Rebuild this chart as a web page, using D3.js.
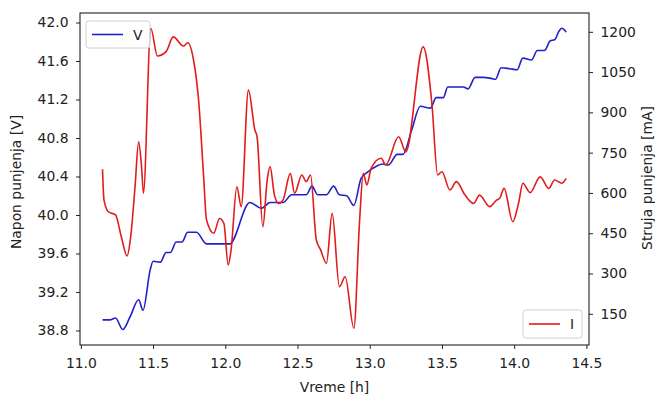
<!DOCTYPE html>
<html><head><meta charset="utf-8">
<script src="https://cdn.jsdelivr.net/npm/d3@7"></script>
<style>body{margin:0;background:#fff}svg{display:block;font-family:"DejaVu Sans",sans-serif}</style>
</head><body>
<script>
const timeV = [11.15,11.20,11.24,11.29,11.34,11.40,11.43,11.48,11.50,11.55,11.59,11.62,11.66,11.70,11.74,11.80,11.87,12.03,12.17,12.25,12.31,12.40,12.46,12.56,12.60,12.64,12.70,12.75,12.79,12.84,12.89,12.94,12.98,13.05,13.09,13.13,13.19,13.23,13.29,13.35,13.42,13.46,13.51,13.54,13.59,13.65,13.68,13.73,13.78,13.84,13.87,13.91,13.97,14.02,14.06,14.12,14.16,14.21,14.25,14.28,14.31,14.33,14.36];
const voltage = [38.91,38.91,38.93,38.81,38.94,39.12,39.01,39.43,39.52,39.51,39.61,39.61,39.72,39.72,39.82,39.82,39.70,39.70,40.13,40.07,40.13,40.13,40.21,40.21,40.30,40.21,40.21,40.30,40.21,40.20,40.10,40.38,40.44,40.51,40.53,40.52,40.63,40.63,40.88,41.13,41.11,41.22,41.22,41.33,41.33,41.33,41.31,41.43,41.43,41.42,41.41,41.53,41.52,41.51,41.63,41.61,41.71,41.71,41.81,41.82,41.91,41.94,41.90];
const timeI = [11.15,11.16,11.19,11.24,11.28,11.32,11.345,11.375,11.40,11.42,11.433,11.484,11.53,11.59,11.64,11.71,11.74,11.78,11.815,11.85,11.87,11.92,11.96,11.99,12.02,12.04,12.08,12.11,12.16,12.205,12.22,12.26,12.29,12.31,12.34,12.37,12.40,12.45,12.48,12.53,12.56,12.59,12.63,12.66,12.70,12.74,12.79,12.83,12.89,12.93,12.955,12.98,13.01,13.08,13.11,13.20,13.25,13.37,13.43,13.47,13.50,13.555,13.60,13.66,13.72,13.76,13.83,13.88,13.90,13.93,13.99,14.03,14.06,14.11,14.18,14.24,14.28,14.33,14.36];
const current = [688,574,530,518,437,365,437,623,790,698,599,1213,1110,1126,1181,1147,1159,1095,946,660,499,450,505,487,332,388,623,549,983,834,809,474,648,698,592,561,574,673,599,667,642,667,425,388,338,524,251,288,96,499,673,630,692,729,704,809,753,1144,934,667,679,611,642,592,561,592,549,574,580,617,493,561,636,601,660,617,648,636,654];
const xTicks = [11.0,11.5,12.0,12.5,13.0,13.5,14.0,14.5];
const vTicks = [38.8,39.2,39.6,40.0,40.4,40.8,41.2,41.6,42.0];
const iTicks = [150,300,450,600,750,900,1050,1200];

const W=655,H=394, L=80, R=589, T=13, B=345, FS=13.9;
const svg=d3.select("body").append("svg").attr("width",W).attr("height",H);
const x=d3.scaleLinear().domain([10.994,14.518]).range([L,R]);
const yV=d3.scaleLinear().domain([38.649,42.099]).range([B,T]);
const yI=d3.scaleLinear().domain([33.8,1270]).range([B,T]);

const gx=svg.append("g").attr("transform",`translate(0,${B})`)
  .call(d3.axisBottom(x).tickValues(xTicks).tickFormat(d3.format(".1f")).tickSizeOuter(0).tickSize(4).tickPadding(9));
const gl=svg.append("g").attr("transform",`translate(${L},0)`)
  .call(d3.axisLeft(yV).tickValues(vTicks).tickFormat(d3.format(".1f")).tickSizeOuter(0).tickSize(4).tickPadding(7.5));
const gr=svg.append("g").attr("transform",`translate(${R},0)`)
  .call(d3.axisRight(yI).tickValues(iTicks).tickFormat(d3.format("d")).tickSizeOuter(0).tickSize(4).tickPadding(7.5));
[gx,gl,gr].forEach(g=>{g.select(".domain").remove();g.selectAll("text").attr("font-size",FS).attr("fill","#222").attr("font-family","DejaVu Sans");g.selectAll("line").attr("stroke","#222");});

const lineV=d3.line().x((d,i)=>x(timeV[i])).y(d=>yV(d)).curve(d3.curveMonotoneX);
const lineI=d3.line().x((d,i)=>x(timeI[i])).y(d=>yI(d)).curve(d3.curveMonotoneX);
svg.append("path").attr("d",lineV(voltage)).attr("fill","none").attr("stroke","#2121c8").attr("stroke-width",1.6);
svg.append("path").attr("d",lineI(current)).attr("fill","none").attr("stroke","#e01c1c").attr("stroke-width",1.6);

svg.append("rect").attr("x",L).attr("y",T).attr("width",R-L).attr("height",B-T).attr("fill","none").attr("stroke","#222").attr("stroke-width",1.1);

// legends
function legend(x0,y0,w,h,color,label,tx){
  const g=svg.append("g");
  g.append("rect").attr("x",x0).attr("y",y0).attr("width",w).attr("height",h).attr("rx",2.5).attr("fill","rgba(255,255,255,0.8)").attr("stroke","#d0d0d0");
  g.append("line").attr("x1",x0+6).attr("x2",x0+37).attr("y1",y0+h/2).attr("y2",y0+h/2).attr("stroke",color).attr("stroke-width",1.6);
  g.append("text").attr("x",x0+tx).attr("y",y0+h/2+5).attr("font-size",FS).attr("fill","#222").text(label);
}
legend(86,21,64,27,"#2121c8","V",47);
legend(523,310,59,28,"#e01c1c","I",47);

svg.append("text").attr("x",(L+R)/2).attr("y",392).attr("text-anchor","middle").attr("font-size",FS).attr("fill","#222").text("Vreme [h]");
svg.append("text").attr("transform",`translate(20.5,182) rotate(-90)`).attr("text-anchor","middle").attr("font-size",FS).attr("fill","#222").text("Napon punjenja [V]");
svg.append("text").attr("transform",`translate(652,178) rotate(-90)`).attr("text-anchor","middle").attr("font-size",FS).attr("fill","#222").text("Struja punjenja [mA]");
</script>
</body></html>
